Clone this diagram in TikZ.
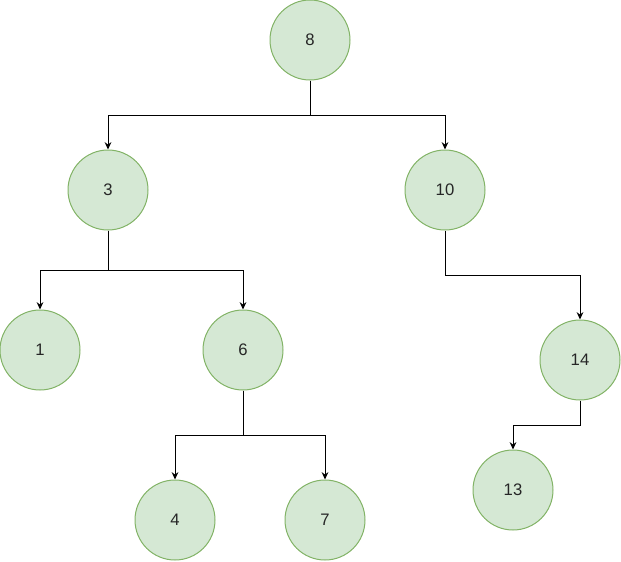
\documentclass[tikz,border=0pt]{standalone}
\usepackage{fontspec}
\setmainfont{Liberation Sans}
\usepackage{tikz}
\usetikzlibrary{arrows.meta}

\definecolor{nodefill}{HTML}{D5E8D4}
\definecolor{nodeline}{HTML}{82B366}

\tikzset{
  treenode/.style={circle,draw=nodeline,fill=nodefill,line width=0.75pt,
    minimum size=60pt,inner sep=0pt,text=black!85,
    font=\fontsize{12.5}{15}\selectfont},
  treeedge/.style={draw=black,line width=0.75pt,
    -{Stealth[length=5.5pt,width=5pt]}}
}

\begin{document}
\begin{tikzpicture}[x=0.75pt,y=-0.75pt]
  \useasboundingbox (0,0) rectangle (621,561);

  % tree nodes
  \node[treenode] (n8)  at (310,40)  {8};
  \node[treenode] (n3)  at (108,190) {3};
  \node[treenode] (n10) at (445,190) {10};
  \node[treenode] (n1)  at (40,350)  {1};
  \node[treenode] (n6)  at (243,350) {6};
  \node[treenode] (n14) at (580,360) {14};
  \node[treenode] (n4)  at (175,520) {4};
  \node[treenode] (n7)  at (325,520) {7};
  \node[treenode] (n13) at (513,490) {13};

  % branch points
  \coordinate (b8)  at (310,115);
  \coordinate (b3)  at (108,270);
  \coordinate (b10) at (445,275);
  \coordinate (b6)  at (243,435);
  \coordinate (b14) at (580,425);

  % edges
  \draw[treeedge] (n8.south) -- (b8) -| (n3.north);
  \draw[treeedge] (n8.south) -- (b8) -| (n10.north);
  \draw[treeedge] (n3.south) -- (b3) -| (n1.north);
  \draw[treeedge] (n3.south) -- (b3) -| (n6.north);
  \draw[treeedge] (n10.south) -- (b10) -| (n14.north);
  \draw[treeedge] (n6.south) -- (b6) -| (n4.north);
  \draw[treeedge] (n6.south) -- (b6) -| (n7.north);
  \draw[treeedge] (n14.south) -- (b14) -| (n13.north);
\end{tikzpicture}
\end{document}
